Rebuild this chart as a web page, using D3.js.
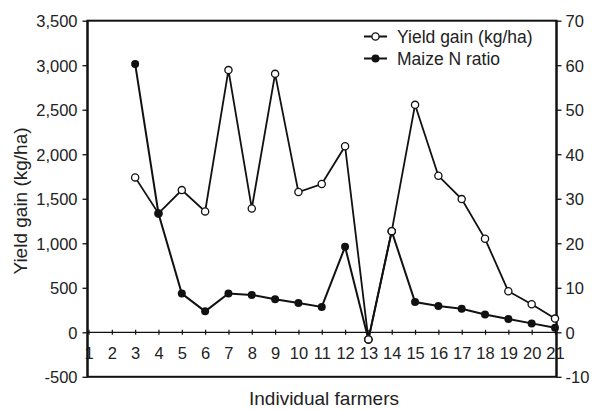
<!DOCTYPE html>
<html>
<head>
<meta charset="utf-8">
<script src="https://cdn.jsdelivr.net/npm/d3@7"></script>
<style>
  html, body { margin: 0; padding: 0; background: #fff; }
  svg { display: block; }
  text { font-family: "Liberation Sans", Arial, sans-serif; fill: #222; }
</style>
</head>
<body>
<svg id="chart" width="592" height="410"></svg>
<script>
// ---- data ----
const farmers = [3, 4, 5, 6, 7, 8, 9, 10, 11, 12, 13, 14, 15, 16, 17, 18, 19, 20, 21];
const yieldGain = [1740, 1335, 1597, 1358, 2945, 1391, 2903, 1575, 1665, 2090, -80, 1136, 2555, 1758, 1496, 1050, 461, 315, 154];
const maizeNRatio = [60.3, 26.7, 8.7, 4.7, 8.7, 8.4, 7.4, 6.6, 5.7, 19.2, -1.6, 22.7, 6.8, 5.9, 5.3, 4.0, 3.0, 2.0, 1.0];
const xTicks = d3.range(1, 22);
const leftTicks = [-500, 0, 500, 1000, 1500, 2000, 2500, 3000, 3500];
const rightTicks = [-10, 0, 10, 20, 30, 40, 50, 60, 70];
const seriesNames = ["Yield gain (kg/ha)", "Maize N ratio"];
const openOnTop = [13, 14];

// ---- layout ----
const svg = d3.select("#chart");
const L = 87.5, R = 556.5, T = 20.7, B = 376.8;
const FONT = '"Liberation Sans", Arial, sans-serif';
const locale = d3.formatLocale({ decimal: ".", thousands: ",", grouping: [3], currency: ["", ""], minus: "-" });
const fmtL = locale.format(",");
const fmtR = locale.format("d");

const x = d3.scaleLinear().domain([1, 21]).range([88.5, 555]);
const yL = d3.scaleLinear().domain([-500, 3500]).range([B, T]);
const yR = d3.scaleLinear().domain([-10, 70]).range([B, T]);

// frame
svg.append("rect").attr("x", L).attr("y", T).attr("width", R - L).attr("height", B - T)
  .attr("fill", "none").attr("stroke", "#111").attr("stroke-width", 2);

// left axis
const gL = svg.append("g").attr("transform", `translate(${L},0)`)
  .call(d3.axisLeft(yL).tickValues(leftTicks).tickSize(5).tickPadding(5).tickFormat(fmtL));
gL.select(".domain").remove();
gL.selectAll(".tick line").attr("stroke", "#111").attr("stroke-width", 1.3);
gL.selectAll(".tick text").style("font-size", "16.5px").attr("fill", "#222")
  .style("font-family", FONT).attr("dy", "0.36em");

// right axis
const gR = svg.append("g").attr("transform", `translate(${R},0)`)
  .call(d3.axisRight(yR).tickValues(rightTicks).tickSize(5).tickPadding(4).tickFormat(fmtR));
gR.select(".domain").remove();
gR.selectAll(".tick line").attr("stroke", "#111").attr("stroke-width", 1.3);
gR.selectAll(".tick text").style("font-size", "16.5px").attr("fill", "#222")
  .style("font-family", FONT).attr("dy", "0.36em");

// zero line with x ticks
const zeroY = yL(0);
svg.append("line").attr("x1", L).attr("x2", R).attr("y1", zeroY).attr("y2", zeroY)
  .attr("stroke", "#111").attr("stroke-width", 1.3);
const gX = svg.append("g").attr("transform", `translate(0,${zeroY})`)
  .call(d3.axisBottom(x).tickValues(xTicks).tickSize(0).tickPadding(15).tickFormat(fmtR));
gX.select(".domain").remove();
gX.selectAll(".tick text").style("font-size", "16.5px").attr("fill", "#222")
  .style("font-family", FONT);
gX.selectAll(".tick").append("line").attr("y1", -2.5).attr("y2", 2.5)
  .attr("stroke", "#111").attr("stroke-width", 1.2);

// redraw frame sides over labels
svg.append("line").attr("x1", L).attr("x2", L).attr("y1", T).attr("y2", B).attr("stroke", "#111").attr("stroke-width", 2);
svg.append("line").attr("x1", R).attr("x2", R).attr("y1", T).attr("y2", B).attr("stroke", "#111").attr("stroke-width", 2);

// axis titles
svg.append("text").attr("transform", `translate(27,201) rotate(-90)`)
  .attr("text-anchor", "middle").style("font-size", "19px").text("Yield gain (kg/ha)");
svg.append("text").attr("x", 324).attr("y", 405)
  .attr("text-anchor", "middle").style("font-size", "19px").text("Individual farmers");

// series
const yieldPts = farmers.map((f, i) => ({ f, v: yieldGain[i] }));
const ratioPts = farmers.map((f, i) => ({ f, v: maizeNRatio[i] }));

const lineY = d3.line().x(d => x(d.f)).y(d => yL(d.v));
const lineR = d3.line().x(d => x(d.f)).y(d => yR(d.v));

svg.append("path").datum(yieldPts).attr("d", lineY)
  .attr("fill", "none").attr("stroke", "#111").attr("stroke-width", 1.8);
svg.append("path").datum(ratioPts).attr("d", lineR)
  .attr("fill", "none").attr("stroke", "#111").attr("stroke-width", 2);

function openMarkers(data) {
  svg.append("g").selectAll("circle").data(data).join("circle")
    .attr("cx", d => x(d.f)).attr("cy", d => yL(d.v)).attr("r", 3.6)
    .attr("fill", "#fff").attr("stroke", "#111").attr("stroke-width", 1.3);
}
openMarkers(yieldPts);
svg.append("g").selectAll("circle").data(ratioPts).join("circle")
  .attr("cx", d => x(d.f)).attr("cy", d => yR(d.v)).attr("r", 4)
  .attr("fill", "#111");
openMarkers(yieldPts.filter(d => openOnTop.includes(d.f)));

// legend
const lg = svg.append("g");
[0, 1].forEach(i => {
  const cy = i === 0 ? 36.5 : 58.5;
  lg.append("line").attr("x1", 364).attr("x2", 387).attr("y1", cy).attr("y2", cy)
    .attr("stroke", "#111").attr("stroke-width", 2);
  if (i === 0) {
    lg.append("circle").attr("cx", 375.5).attr("cy", cy).attr("r", 3.6)
      .attr("fill", "#fff").attr("stroke", "#111").attr("stroke-width", 1.3);
  } else {
    lg.append("circle").attr("cx", 375.5).attr("cy", cy).attr("r", 4).attr("fill", "#111");
  }
  lg.append("text").attr("x", 397).attr("y", cy + 6).style("font-size", "17.5px").text(seriesNames[i]);
});
</script>
</body>
</html>
